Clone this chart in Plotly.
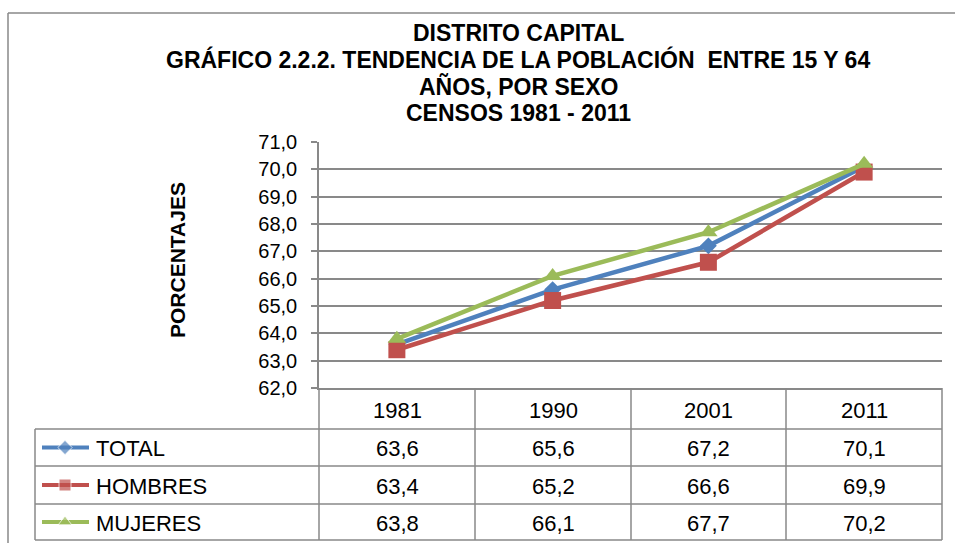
import plotly.graph_objects as go

years = ["1981", "1990", "2001", "2011"]
series_names = ["TOTAL", "HOMBRES", "MUJERES"]
total = [63.6, 65.6, 67.2, 70.1]
hombres = [63.4, 65.2, 66.6, 69.9]
mujeres = [63.8, 66.1, 67.7, 70.2]
values = [total, hombres, mujeres]
colors = ["#4F81BD", "#C0504D", "#9BBB59"]
symbols = ["diamond", "square", "triangle-up"]
marker_sizes = [13, 17, 16]
key_sizes = [11, 12, 12]
title_lines = ["DISTRITO CAPITAL",
               "GRÁFICO 2.2.2. TENDENCIA DE LA POBLACIÓN  ENTRE 15 Y 64",
               "AÑOS, POR SEXO",
               "CENSOS 1981 - 2011"]
y_title = "PORCENTAJES"

W, H = 955, 543
FONT = "Liberation Sans, Arial, sans-serif"
GRID = "#898989"

def px(x):
    return x / W

def py(y):
    return 1 - y / H

# layout geometry (pixels)
X_AX0, X_AX1 = 319, 942
Y_TOP, Y_BOT = 142, 388
col_edges = [319, 475, 631, 786, 942]
row_edges = [388, 429, 466, 504, 540]
LEG_X0 = 35

fig = go.Figure()
for name, vals, c, s, ms in zip(series_names, values, colors, symbols, marker_sizes):
    fig.add_trace(go.Scatter(
        x=years, y=vals, name=name, mode="lines+markers",
        line=dict(color=c, width=4.5),
        marker=dict(symbol=s, size=ms, color=c),
        showlegend=False, xaxis="x", yaxis="y"))

# legend keys inside the data table (pixel axis covering the page)
for i, (c, s, ks) in enumerate(zip(colors, symbols, key_sizes)):
    yc = (row_edges[i + 1] + row_edges[i + 2]) / 2
    fig.add_trace(go.Scatter(
        x=[42, 65, 89], y=[yc, yc, yc], mode="lines+markers",
        line=dict(color=c, width=4),
        marker=dict(symbol=s, size=[0, ks, 0], color=c),
        showlegend=False, hoverinfo="skip", xaxis="x2", yaxis="y2"))

shapes = []
line = dict(color=GRID, width=1.5)
# outer frame (left & top visible)
shapes.append(dict(type="line", xref="paper", yref="paper", x0=px(8), x1=px(8), y0=py(13), y1=py(H + 5), line=line))
shapes.append(dict(type="line", xref="paper", yref="paper", x0=px(8), x1=px(W + 5), y0=py(13), y1=py(13), line=line))
# table horizontal lines
for y in row_edges[1:]:
    shapes.append(dict(type="line", xref="paper", yref="paper", x0=px(LEG_X0), x1=px(X_AX1), y0=py(y), y1=py(y), line=line))
# table vertical lines
shapes.append(dict(type="line", xref="paper", yref="paper", x0=px(LEG_X0), x1=px(LEG_X0), y0=py(row_edges[1]), y1=py(row_edges[-1]), line=line))
for x in col_edges:
    shapes.append(dict(type="line", xref="paper", yref="paper", x0=px(x), x1=px(x), y0=py(row_edges[0]), y1=py(row_edges[-1]), line=line))

def ann(text, x, y, size, xanchor="center", **kw):
    return dict(text=text, x=px(x), y=py(y), xref="paper", yref="paper", showarrow=False,
                xanchor=xanchor, yanchor="middle",
                font=dict(family=FONT, size=size, color="black"), **kw)

annotations = []
title_y = [33, 59, 86, 113]
for t, y in zip(title_lines, title_y):
    annotations.append(ann(f"<b>{t}</b>", 518, y, 23))
annotations.append(ann(f"<b>{y_title}</b>", 177, 260, 21, textangle=-90))
TS = 22
# header row
for j, yr in enumerate(years):
    xc = (col_edges[j] + col_edges[j + 1]) / 2
    annotations.append(ann(yr, xc, (row_edges[0] + row_edges[1]) / 2 + 2, TS))
# value rows
for i, (name, vals) in enumerate(zip(series_names, values)):
    yc = (row_edges[i + 1] + row_edges[i + 2]) / 2 + 1
    annotations.append(ann(name, 94, yc, TS, xanchor="left"))
    for j, v in enumerate(vals):
        xc = (col_edges[j] + col_edges[j + 1]) / 2
        annotations.append(ann(f"{v:.1f}".replace(".", ","), xc, yc, TS))

fig.update_layout(
    width=W, height=H, margin=dict(l=0, r=0, t=0, b=0, autoexpand=False),
    paper_bgcolor="white", plot_bgcolor="rgba(0,0,0,0)",
    separators=",.",
    font=dict(family=FONT, color="black"),
    xaxis=dict(domain=[px(X_AX0), px(X_AX1)], range=[-0.5, 3.5], type="category",
               showticklabels=False, ticks="", showgrid=False, zeroline=False, automargin=False,
               showline=True, linecolor=GRID, linewidth=1.5, anchor="y"),
    yaxis=dict(domain=[py(Y_BOT), py(Y_TOP)], range=[62, 71], dtick=1, tickformat=".1f",
               showgrid=True, gridcolor=GRID, gridwidth=1.5, zeroline=False, automargin=False,
               showline=True, linecolor=GRID, linewidth=1.5,
               ticks="outside", ticklen=6, tickcolor=GRID, tickwidth=1.5, anchor="x",
               tickfont=dict(family=FONT, size=20, color="black"), ticklabelstandoff=10),
    xaxis2=dict(domain=[0, 1], range=[0, W], visible=False, anchor="y2", fixedrange=True, automargin=False),
    yaxis2=dict(domain=[0, 1], range=[H, 0], visible=False, anchor="x2", fixedrange=True, automargin=False),
    shapes=shapes, annotations=annotations,
)
fig.write_html("out.html", config={"displayModeBar": False},
               post_script="document.body.style.margin='0';document.body.style.overflow='hidden';")
